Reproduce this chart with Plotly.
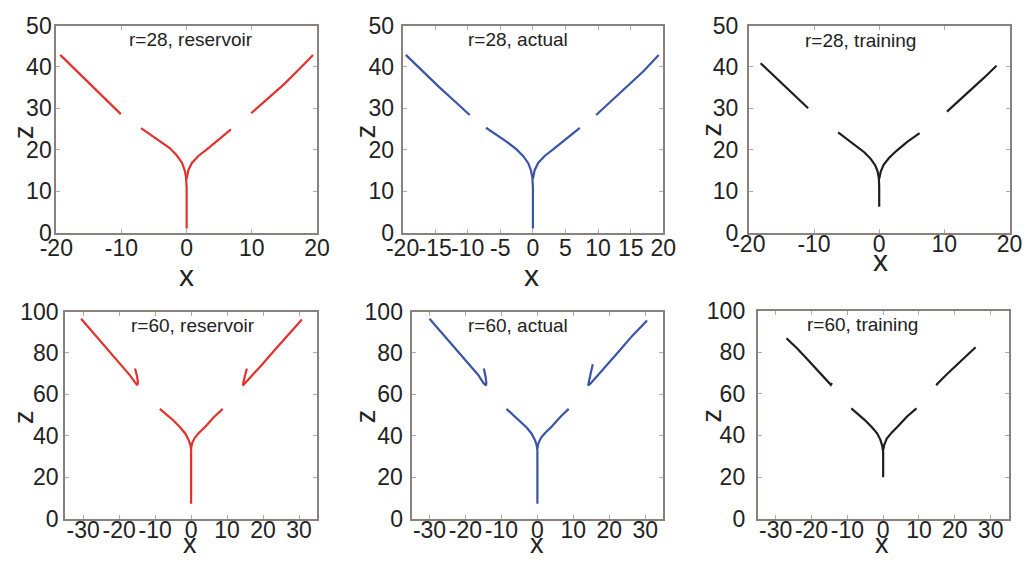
import plotly.graph_objects as go

W, H = 1029, 568

# ---------------- data (x, z) ; None separates curve pieces ----------------
r28_res_x = [-19.4, -17.0, -14.8, -12.5, -10.1, None,
             -7.0, -5.5, -4.0, -2.6, -1.5, -0.7, -0.3, -0.1, 0.0, 0.0, 0.0, None,
             0.0, 0.25, 0.8, 1.8, 3.2, 5.0, 6.8, None,
             9.9, 12.5, 15.0, 17.3, 19.4]
r28_res_z = [42.9, 39.2, 35.8, 32.2, 28.6, None,
             25.2, 23.6, 22.1, 20.4, 18.6, 16.8, 15.0, 13.5, 11.0, 6.0, 1.0, None,
             13.0, 15.0, 16.8, 18.5, 20.2, 22.5, 24.9, None,
             28.8, 32.3, 35.9, 39.5, 42.9]

r28_act_x = [-19.5, -17.0, -14.5, -12.0, -9.7, None,
             -7.2, -5.5, -4.0, -2.6, -1.5, -0.7, -0.3, -0.1, 0.0, 0.0, 0.0, None,
             0.0, 0.25, 0.8, 1.8, 3.2, 5.0, 7.2, None,
             9.7, 12.0, 14.5, 17.0, 19.3]
r28_act_z = [42.9, 39.0, 35.3, 31.7, 28.4, None,
             25.3, 23.5, 21.9, 20.2, 18.5, 16.7, 15.0, 13.5, 11.0, 6.0, 1.0, None,
             13.0, 15.0, 16.8, 18.5, 20.2, 22.6, 25.3, None,
             28.4, 31.7, 35.3, 39.0, 42.9]

r28_trn_x = [-18.2, -16.3, -14.5, -12.7, -10.9, None,
             -6.3, -5.0, -3.6, -2.3, -1.3, -0.6, -0.25, -0.05, 0.0, 0.0, 0.0, None,
             0.0, 0.25, 0.7, 1.5, 2.7, 4.3, 6.2, None,
             10.4, 12.3, 14.2, 16.1, 18.0]
r28_trn_z = [40.9, 38.0, 35.3, 32.6, 30.0, None,
             24.2, 22.6, 21.0, 19.4, 17.8, 16.2, 14.8, 13.2, 11.0, 8.5, 6.2, None,
             13.0, 14.8, 16.4, 18.0, 19.8, 21.9, 24.0, None,
             29.2, 31.9, 34.6, 37.4, 40.3]

r60_res_x = [-30.6, -27.0, -23.0, -19.5, -17.0, -15.6, -15.0, -14.8, -15.0, -15.6, None,
             30.8, 27.0, 23.0, 19.5, 17.0, 15.2, 14.4, 14.6, 15.0, 15.5, None,
             -8.7, -7.0, -5.0, -3.0, -1.6, -0.7, -0.2, 0.0, 0.0, 0.0, 0.0, None,
             0.0, 0.3, 1.0, 2.2, 4.0, 6.3, 8.8]
r60_res_z = [96.5, 89.2, 81.2, 74.2, 69.2, 65.8, 64.5, 65.5, 68.5, 72.5, None,
             96.2, 89.0, 81.0, 74.0, 69.0, 65.5, 64.3, 66.5, 69.5, 72.5, None,
             53.0, 50.5, 47.5, 44.0, 41.0, 38.0, 35.5, 33.0, 25.0, 15.0, 7.2, None,
             34.0, 36.5, 39.0, 41.5, 44.5, 49.0, 53.0]

r60_act_x = [-30.0, -26.5, -22.5, -19.0, -16.5, -15.0, -14.3, -14.2, -14.4, -14.9, None,
             30.5, 26.5, 22.5, 19.0, 16.5, 14.8, 14.1, 14.3, 14.8, 15.4, None,
             -8.6, -7.0, -5.0, -3.0, -1.6, -0.7, -0.2, 0.0, 0.0, 0.0, 0.0, None,
             0.0, 0.3, 1.0, 2.2, 4.0, 6.3, 8.7]
r60_act_z = [96.5, 89.5, 81.5, 74.5, 69.5, 65.5, 64.3, 65.5, 68.5, 72.5, None,
             95.7, 88.5, 80.5, 73.5, 68.5, 65.3, 64.3, 66.5, 70.0, 74.5, None,
             53.0, 50.5, 47.5, 44.0, 41.0, 38.0, 35.5, 33.0, 25.0, 15.0, 7.2, None,
             34.0, 36.5, 39.0, 41.5, 44.5, 49.0, 53.0]

r60_trn_x = [-27.0, -24.0, -21.5, -19.0, -17.0, -15.5, -14.6, -14.3, None,
             25.8, 23.0, 20.5, 18.3, 16.5, 15.3, 14.8, 15.3, None,
             -8.9, -7.2, -5.2, -3.2, -1.7, -0.8, -0.25, 0.0, 0.0, 0.0, None,
             0.0, 0.3, 1.0, 2.3, 4.2, 6.6, 9.3]
r60_trn_z = [86.7, 81.8, 77.2, 72.5, 68.5, 65.5, 64.3, 65.2, None,
             82.4, 78.0, 73.8, 70.2, 67.2, 65.2, 64.2, 64.9, None,
             53.0, 50.5, 47.5, 44.0, 41.0, 38.0, 35.0, 32.0, 26.0, 19.9, None,
             33.0, 35.5, 38.5, 41.2, 44.5, 49.0, 53.0]

panel_titles = ["r=28, reservoir", "r=28, actual", "r=28, training",
                "r=60, reservoir", "r=60, actual", "r=60, training"]
top_ticks_a = [-20, -10, 0, 10, 20]
top_ticks_b = [-20, -15, -10, -5, 0, 5, 10, 15, 20]
bot_ticks = [-30, -20, -10, 0, 10, 20, 30]
top_zticks = [0, 10, 20, 30, 40, 50]
bot_zticks = [0, 20, 40, 60, 80, 100]

RED, BLUE, BLACK = "#e2322b", "#3a55a6", "#1e1e1e"

# ---------------- layout geometry ----------------
# target positions in the photographed picture; the photo shows the page
# slightly shrunk with a border, so convert picture px -> page px.
SX, OX, SY, OY = 0.9757, 14.5, 0.954, 11.5
def px(X):
    return (X - OX) / SX
def py(Y):
    return (Y - OY) / SY

boxes = [(54, 316, 24, 231), (402, 664, 24, 231), (750, 1012, 24, 231),
         (63, 316, 310, 517), (411, 664, 310, 517), (759, 1011, 309, 517)]
title_pos = [(189, 38), (518, 38), (862, 39), (191, 324), (518, 324), (864, 323)]
xlab_pos = [(185, 274), (532, 274), (882, 259), (188, 558), (537, 558), (884, 557)]
zlab_pos = [(21, 130), (365, 130), (713, 128), (21, 415), (365, 415), (713, 414)]
xlab_shift = [-6, -6, -10, -10, -10, -10]
ylab_shift = [-2, 2, 4, 0, 2, 6]
xlab_size = [30, 30, 30, 27, 27, 27]

series = [(r28_res_x, r28_res_z, RED), (r28_act_x, r28_act_z, BLUE), (r28_trn_x, r28_trn_z, BLACK),
          (r60_res_x, r60_res_z, RED), (r60_act_x, r60_act_z, BLUE), (r60_trn_x, r60_trn_z, BLACK)]
xranges = [[-20, 20]] * 3 + [[-35, 35]] * 3
zranges = [[0, 50]] * 3 + [[0, 100]] * 3
xticks = [top_ticks_a, top_ticks_b, top_ticks_a, bot_ticks, bot_ticks, bot_ticks]
zticks = [top_zticks] * 3 + [bot_zticks] * 3

FONT = "Liberation Sans, Arial, sans-serif"
TXT = "#222222"
AX = "#8a817d"

fig = go.Figure()
layout = dict(width=W, height=H, margin=dict(l=0, r=0, t=0, b=0),
              paper_bgcolor="white", plot_bgcolor="white", showlegend=False,
              font=dict(family=FONT, color=TXT))
annotations = []
for i in range(6):
    xs, zs, col = series[i]
    k = "" if i == 0 else str(i + 1)
    fig.add_trace(go.Scatter(x=xs, y=zs, mode="lines", line=dict(color=col, width=2.2),
                             xaxis="x" + k, yaxis="y" + k, hoverinfo="skip"))
    l, r, t, b = boxes[i]
    axcommon = dict(showgrid=False, zeroline=False, showline=True, linecolor=AX, linewidth=2,
                    mirror="allticks", ticks="inside", ticklen=4, tickwidth=1, tickcolor="#b0aaa6",
                    tickfont=dict(size=23, color=TXT, family=FONT), tickangle=0)
    layout["xaxis" + k] = dict(domain=[px(l) / W, min(px(r) / W, 0.998)], range=xranges[i],
                               tickvals=xticks[i], ticktext=[str(v) for v in xticks[i]],
                               ticklabelstandoff=xlab_shift[i], anchor="y" + k, **axcommon)
    layout["yaxis" + k] = dict(domain=[1 - py(b) / H, 1 - py(t) / H], range=zranges[i],
                               tickvals=zticks[i], ticktext=[str(v) for v in zticks[i]],
                               ticklabelstandoff=ylab_shift[i], anchor="x" + k, **axcommon)
    tx, ty = title_pos[i]
    annotations.append(dict(text=panel_titles[i], x=px(tx) / W, y=1 - py(ty) / H,
                            xref="paper", yref="paper", showarrow=False,
                            xanchor="center", yanchor="middle",
                            font=dict(size=19, color=TXT, family=FONT)))
    xx, xy = xlab_pos[i]
    annotations.append(dict(text="x", x=px(xx) / W, y=1 - min(py(xy), 556) / H,
                            xref="paper", yref="paper", showarrow=False,
                            xanchor="center", yanchor="middle",
                            font=dict(size=xlab_size[i], color=TXT, family=FONT)))
    zx, zy = zlab_pos[i]
    annotations.append(dict(text="z", x=px(zx) / W, y=1 - py(zy) / H,
                            xref="paper", yref="paper", showarrow=False,
                            xanchor="center", yanchor="middle", textangle=-90,
                            font=dict(size=27, color=TXT, family=FONT)))
layout["annotations"] = annotations
fig.update_layout(**layout)
fig.write_html("out.html", config={"displayModeBar": False},
               post_script="document.body.style.margin='0';document.body.style.overflow='hidden';")
